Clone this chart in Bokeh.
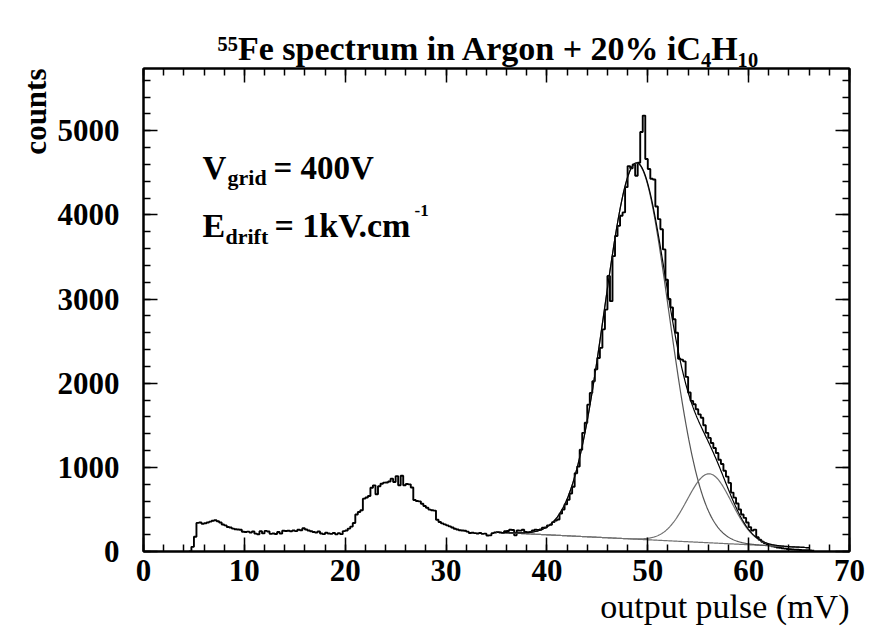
import numpy as np
from bokeh.plotting import figure
from bokeh.models import Range1d, LinearAxis, SingleIntervalTicker, Label, Title
from bokeh.embed import file_html
from bokeh.resources import INLINE

# ---------------- data ----------------
bin_width = 0.25          # mV
first_bin_left = 4.5      # mV
counts = [
    0, 55,
    175, 340, 345, 330,
    335, 345, 355, 365,
    372, 360, 345, 320,
    310, 292, 285, 272,
    265, 262, 258, 235,
    232, 236, 226, 238,
    212, 205, 242, 215,
    245, 238, 210, 214,
    208, 232, 212, 246,
    244, 246, 240, 250,
    242, 258, 252, 276,
    262, 250, 240, 232,
    226, 238, 214, 206,
    222, 214, 210, 220,
    204, 216, 206, 242,
    250, 272, 296, 338,
    440, 470, 490, 628,
    642, 660, 758, 786,
    680, 776, 806, 818,
    820, 832, 866, 826,
    896, 788, 900, 788,
    802, 798, 760, 612,
    600, 596, 568, 540,
    520, 498, 490, 486,
    378, 350, 334, 322,
    310, 298, 286, 270,
    262, 252, 250, 246,
    236, 220, 222, 218,
    214, 220, 210, 212,
    190, 192, 218, 225,
    232, 226, 218, 242,
    244, 258, 255, 192,
    250, 248, 258, 232,
    228, 232, 250, 258,
    256, 262, 282, 285,
    310, 318, 349, 369,
    380, 450, 500, 560,
    615, 690, 770, 930,
    1010, 1210, 1410, 1530,
    1745, 1885, 2024, 2165,
    2300, 2420, 2640, 2875,
    3275, 2975, 3510, 3750,
    3870, 3990, 4030, 4330,
    4580, 4555, 4600, 4465,
    4620, 4985, 5180, 4665,
    4545, 4430, 4420, 4100,
    3950, 3830, 3590, 3230,
    3000, 2900, 2760, 2600,
    2290, 2280, 2260, 2075,
    1890, 1790, 1750, 1690,
    1630, 1590, 1500, 1410,
    1350, 1290, 1230, 1170,
    1090, 1040, 960, 890,
    815, 700, 640, 570,
    500, 440, 400, 345,
    290, 250, 260, 170,
    140, 115, 98, 85,
    75, 62, 55, 48,
    44, 38, 34, 30,
    28, 25, 22, 20,
    18, 16, 15, 14,
    12, 10,
]

# fit (two gaussians + linear background), parameters
fit_start, fit_end = 35.0, 66.0
bkg_ref_x, bkg_ref_y, bkg_slope = 35.0, 228.0, -5.9
g1_amp, g1_mean, g1_sigma = 4470.0, 48.9, 3.2
g2_amp, g2_mean, g2_sigma = 820.0, 56.1, 2.2

x_ticks_interval, y_ticks_interval = 10, 1000
x_min, x_max = 0, 70
y_min, y_max = 0, 5740

title_text = "\u2075\u2075Fe spectrum in Argon + 20% iC\u2084H\u2081\u2080"
x_title = "output pulse (mV)"
y_title = "counts"

# ---------------- derived ----------------
n = len(counts)
edges = [first_bin_left + i * bin_width for i in range(n + 1)]
step_x = edges
step_y = counts + [counts[-1]]

xf = np.linspace(fit_start, fit_end, 500)
bkg = bkg_ref_y + bkg_slope * (xf - bkg_ref_x)
g1 = g1_amp * np.exp(-0.5 * ((xf - g1_mean) / g1_sigma) ** 2)
g2 = g2_amp * np.exp(-0.5 * ((xf - g2_mean) / g2_sigma) ** 2)

# ---------------- layout helpers (pixel -> data) ----------------
FL, FR, FT, FB = 143, 849, 68, 551
W, H = 882, 634
def px2x(px):
    return x_min + (px - FL) / (FR - FL) * (x_max - x_min)
def px2y(py):
    return y_min + (FB - py) / (FB - FT) * (y_max - y_min)

FONT = "Liberation Serif"

p = figure(width=W, height=H, x_range=Range1d(x_min, x_max), y_range=Range1d(y_min, y_max),
           output_backend="svg", toolbar_location=None,
           min_border_left=FL, min_border_right=W - FR, min_border_top=FT, min_border_bottom=H - FB)
p.background_fill_color = "white"
p.border_fill_color = "white"
p.outline_line_color = "black"
p.outline_line_width = 2
p.xgrid.visible = False
p.ygrid.visible = False

p.title.text = title_text
p.title.text_font = FONT
p.title.text_font_size = "34px"
p.title.text_font_style = "bold"
p.title.text_color = "black"
p.title.align = "left"
p.title.offset = 74
p.title.standoff = 4

def style_axis(ax, interval, labels=True):
    ax.ticker = SingleIntervalTicker(interval=interval, num_minor_ticks=5)
    ax.axis_line_color = "black"
    ax.axis_line_width = 2
    ax.major_tick_in = 14
    ax.major_tick_out = 0
    ax.minor_tick_in = 7
    ax.minor_tick_out = 0
    ax.major_tick_line_width = 1.5
    ax.minor_tick_line_width = 1.5
    ax.major_tick_line_color = "black"
    ax.minor_tick_line_color = "black"
    if labels:
        ax.major_label_text_font = FONT
        ax.major_label_text_font_style = "bold"
        ax.major_label_text_font_size = "31px"
        ax.major_label_text_color = "black"
    else:
        ax.major_label_text_font_size = "8px"
        ax.major_label_text_color = None
        ax.major_label_standoff = 0

style_axis(p.xaxis[0], x_ticks_interval)
style_axis(p.yaxis[0], y_ticks_interval)
p.xaxis[0].major_label_standoff = 8
p.yaxis[0].major_label_standoff = 24

top_ax = LinearAxis()
style_axis(top_ax, x_ticks_interval, labels=False)
p.add_layout(top_ax, "above")
right_ax = LinearAxis()
style_axis(right_ax, y_ticks_interval, labels=False)
p.add_layout(right_ax, "right")

# axis titles (as titles so they are not clipped by the frame)
p.add_layout(Title(text=x_title, align="right", text_font=FONT, text_font_size="34px",
                   text_font_style="normal", text_color="black", standoff=5), "below")
p.add_layout(Title(text=y_title, align="right", text_font=FONT, text_font_size="31px",
                   text_font_style="bold", text_color="black", standoff=4), "left")

# histogram
p.step(step_x, step_y, mode="after", line_color="black", line_width=1.9)

# fit components
p.line(xf, bkg, line_color="#707070", line_width=1.2)
p.line(xf, g1 + bkg, line_color="#555555", line_width=1.2)
p.line(xf, g2 + bkg, line_color="#707070", line_width=1.2)
p.line(xf, g1 + g2 + bkg, line_color="black", line_width=1.2)

def add_text(px, py, text, size, bold=True, align="left", angle=0.0):
    p.add_layout(Label(x=px2x(px), y=px2y(py), text=text, text_font=FONT,
                       text_font_size=f"{size}px", text_font_style="bold" if bold else "normal",
                       text_align=align, text_baseline="alphabetic", angle=angle,
                       text_color="black"))

# annotations inside the frame
add_text(202, 167, "V", 33)
add_text(227, 177, "grid", 22)
add_text(273, 167, "= 400V", 33)
add_text(202, 225, "E", 34)
add_text(225, 236, "drift", 22)
add_text(274, 225, "= 1kV.cm", 34)
add_text(414, 210, "-1", 17)

open("out.html", "w").write(file_html(p, INLINE))
